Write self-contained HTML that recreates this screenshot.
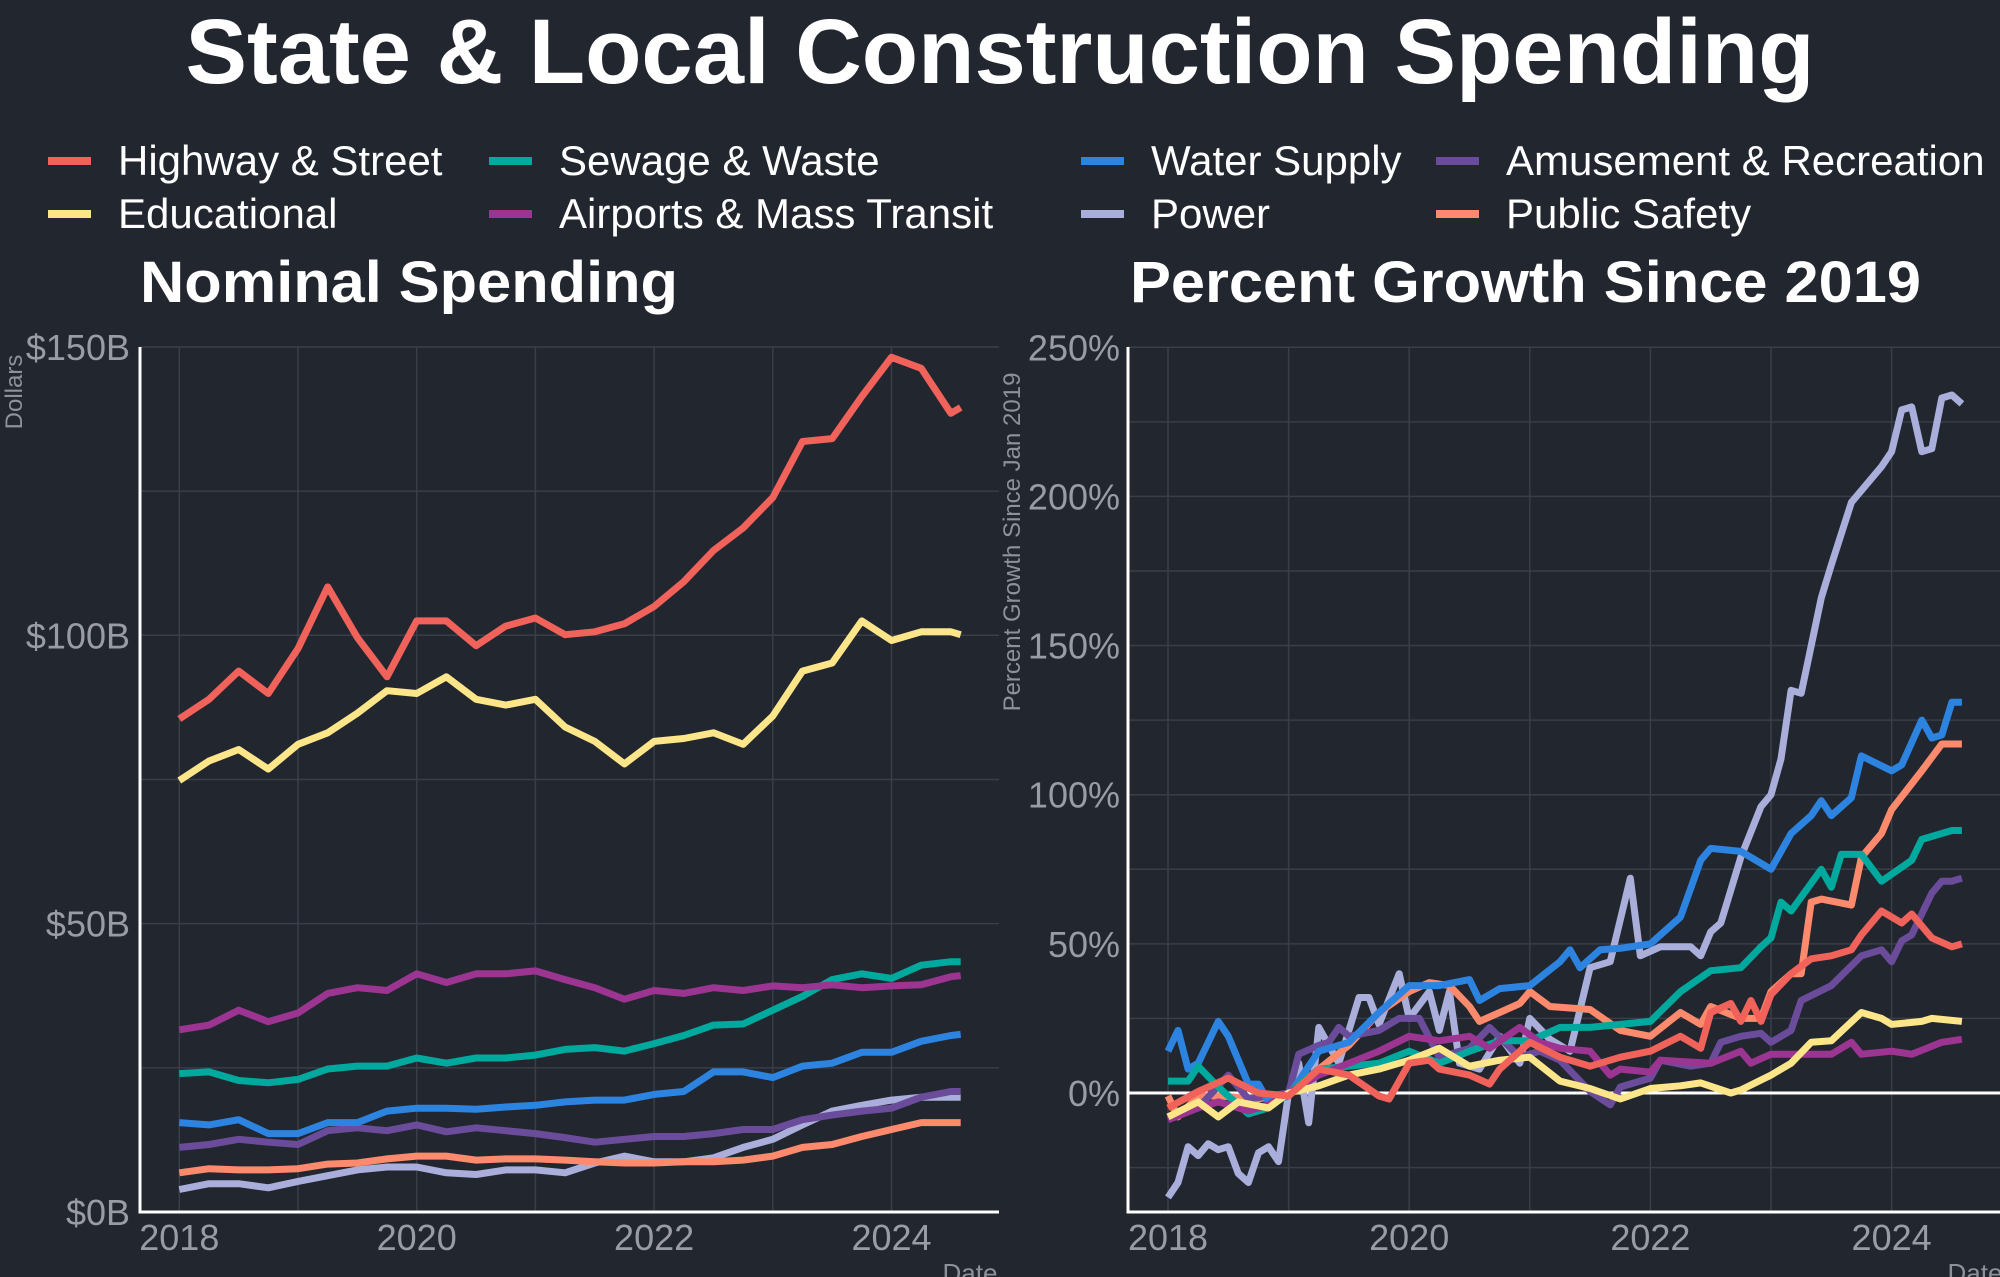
<!DOCTYPE html>
<html><head><meta charset="utf-8"><style>
html,body{margin:0;padding:0;background:#22262f;}
svg{display:block;font-family:"Liberation Sans",Arial,sans-serif;}
</style></head><body>
<svg id="chart" width="2000" height="1277" viewBox="0 0 2000 1277" xmlns="http://www.w3.org/2000/svg">
<rect x="0" y="0" width="2000" height="1277" fill="#22262f"/>
<text x="1000" y="83" text-anchor="middle" font-size="92" font-weight="bold" fill="#fff" textLength="1629" lengthAdjust="spacingAndGlyphs">State &amp; Local Construction Spending</text>
<g id="legend"></g>
<text x="140" y="302" font-size="58" font-weight="bold" fill="#fff" textLength="538" lengthAdjust="spacingAndGlyphs">Nominal Spending</text>
<text x="1130" y="302" font-size="58" font-weight="bold" fill="#fff" textLength="791" lengthAdjust="spacingAndGlyphs">Percent Growth Since 2019</text>
<defs>
<clipPath id="clipL"><rect x="140" y="340" width="860" height="872"/></clipPath>
<clipPath id="clipR"><rect x="1128" y="340" width="872" height="872"/></clipPath>
</defs>
<g id="gridL"></g>
<g id="gridR"></g>
<g id="linesL" clip-path="url(#clipL)"></g>
<g id="linesR" clip-path="url(#clipR)"></g>
<g id="axes"></g>
<text transform="translate(22,392) rotate(-90)" text-anchor="middle" font-size="24" fill="#8e9199">Dollars</text>
<text transform="translate(1020,542) rotate(-90)" text-anchor="middle" font-size="24" fill="#8e9199">Percent Growth Since Jan 2019</text>
<text x="970" y="1282" text-anchor="middle" font-size="26" fill="#8e9199">Date</text>
<text x="1975" y="1282" text-anchor="middle" font-size="26" fill="#8e9199">Date</text>
</svg>
<script>
// ---- data (months since Jan 2018) ----
const names = ["Highway & Street","Educational","Sewage & Waste","Airports & Mass Transit","Water Supply","Power","Amusement & Recreation","Public Safety"];
const colors = ["#f0625a","#fde58a","#00a99d","#9c3591","#2c84e0","#a9aedb","#6b4c9a","#fd8a6c"];
const leftMonths = [0,3,6,9,12,15,18,21,24,27,30,33,36,39,42,45,48,51,54,57,60,63,66,69,72,75,78,79];
const leftHighway = [85.5,88.9,93.8,89.9,97.7,108.4,99.6,92.8,102.5,102.5,98.2,101.6,103,100.1,100.6,102,105,109.3,114.7,118.6,123.9,133.6,134.1,141.4,148.2,146.3,138.5,139.5];
const leftEducational = [74.8,78.2,80.2,76.8,81.1,83.1,86.5,90.4,89.9,92.8,88.9,87.9,88.9,84.1,81.6,77.7,81.6,82.1,83.1,81.1,86,93.8,95.2,102.5,99.1,100.6,100.6,100.1];
const leftSewage = [24,24.3,22.8,22.4,23,24.8,25.3,25.3,26.7,25.8,26.7,26.7,27.2,28.2,28.5,27.9,29.2,30.6,32.4,32.6,35,37.4,40.3,41.3,40.5,42.8,43.4,43.4];
const leftAirports = [31.6,32.4,35,33,34.5,37.9,38.9,38.4,41.3,39.8,41.3,41.3,41.8,40.3,38.9,36.9,38.4,37.9,38.9,38.4,39.2,38.9,39.4,38.9,39.2,39.4,40.8,41];
const leftWater = [15.5,15.1,16,13.6,13.6,15.5,15.5,17.5,18,18,17.8,18.2,18.5,19.1,19.4,19.4,20.4,20.9,24.3,24.3,23.3,25.3,25.8,27.7,27.7,29.6,30.6,30.8];
const leftPower = [3.9,4.9,4.9,4.2,5.3,6.3,7.3,7.8,7.8,6.8,6.5,7.3,7.3,6.8,8.5,9.7,8.7,8.7,9.4,11.2,12.6,15.1,17.5,18.5,19.4,19.9,19.9,19.9];
const leftAmusement = [11.2,11.7,12.6,12.1,11.7,14.1,14.6,14.1,15.1,13.9,14.6,14.1,13.6,12.9,12.1,12.6,13.1,13.1,13.6,14.3,14.3,16,16.8,17.5,18,19.9,20.9,20.9];
const leftSafety = [6.8,7.5,7.3,7.3,7.5,8.3,8.5,9.2,9.7,9.7,9,9.2,9.2,9,8.7,8.5,8.5,8.7,8.7,9,9.7,11.2,11.7,13.1,14.3,15.5,15.5,15.5];

const rHighwayM = [0,3,6,9,12,15,18,21,22,24,26,27,30,32,33,36,39,42,45,48,51,53,54,56,57,58,59,60,62,64,66,68,69,71,73,74,76,78,79];
const rHighwayV = [-5,0.5,5,0,-1,8,6,-1,-2,10,11,8,6,3,8,17,12,9,12,14,19,15,27,30,24,31,24,33,40,45,46,48,53,61,57,60,52,49,50];
const rEduM = [0,3,5,7,10,12,15,18,21,24,27,30,33,36,39,42,45,48,51,53,56,57,60,62,64,66,69,71,72,75,76,79];
const rEduV = [-8,-3,-8,-3,-5,0,2.4,6,8,11,15,9,11,12,4,1.5,-2,1.5,2.4,3.4,0,1,6,10,17,17.5,27,25,23,24,25,24];
const rSewageM = [0,2,3,5,8,10,12,15,18,21,24,27,30,33,36,39,42,45,48,51,54,57,59,60,61,62,65,66,67,69,71,74,75,78,79];
const rSewageV = [4,4,9,2,-7,-5,0,8,9,10,14,10,14,17.5,17.5,22,22,23,24,34,41,42,49,52,64,61,75,69,80,80,71,78,85,88,88];
const rAirportsM = [0,3,5,8,10,12,15,18,21,24,27,30,32,35,37,39,42,44,45,48,49,54,57,58,60,63,66,68,69,72,74,77,79];
const rAirportsV = [-9,-5,-3,-6,-4,0,6,10,14,19,17.5,19,15,22,17,15,14,6,8,7,11,10,14,10,13,13,13,17,13,14,13,17,18];
const rWaterM = [0,1,2,3,5,6,8,9,10,12,15,18,21,24,27,30,31,33,36,39,40,41,43,45,48,51,53,54,57,59,60,62,64,65,66,68,69,72,73,75,76,77,78,79];
const rWaterV = [14,21,8,10,24,19,3,3,-3,-1,14,17,27,36,36,38,31,35,36,44,48,42,48,48.5,50,59,78,82,81,77,75,87,93,98,93,99,113,108,110,125,119,120,131,131];
const rPowerM = [0,1,2,3,4,5,6,7,8,9,10,11,12,13,14,15,17,19,20,21,23,24,26,27,28,29,31,33,35,36,38,40,42,44,46,47,49,52,53,54,55,57,59,60,61,62,63,65,66,68,71,72,73,74,75,76,77,78,79];
const rPowerV = [-35,-30,-18,-21,-17,-19,-18,-27,-30,-20,-18,-23,0,10,-10,22,10,32,32,23,40,25,34,21,34,10,8,19,10,25,18,14,42,44,72,46,49,49,46,54,57,79,96,100,112,135,134,166,177,198,210,215,229,230,215,216,233,234,231];
const rAmuseM = [0,3,6,8,10,12,13,15,16,17,18,21,23,25,27,30,32,35,37,39,42,44,45,48,49,52,54,55,57,59,60,62,63,66,69,71,72,73,74,76,77,78,79];
const rAmuseV = [-9,-5,6,-2,-1,0,13,16,17,22,19,21,25,25,12,15,22,12,14,11,0.5,-4,2,5,11,9,10,17,19,20,17,21,31,36,46,48,44,51,53,67,71,71,72];
const rSafetyM = [0,1,3,5,9,12,15,18,21,24,26,28,30,31,33,35,36,38,42,45,48,51,53,54,57,59,60,62,63,64,65,68,69,71,72,75,77,79];
const rSafetyV = [-1,-8,-1,-1,-2,0,8,16,27,34,37,36,29,24,27,30,34,29,28,21,19,27,23,29,25,25,34,40,40,64,65,63,79,87,95,108,117,117];

const yTicksL = [0,25,50,75,100,125,150];
const yLabelsL = ["$0B","","$50B","","$100B","","$150B"];
const yTicksR = [-25,0,25,50,75,100,125,150,175,200,225,250];
const yLabelsR = ["","0%","","50%","","100%","","150%","","200%","","250%"];
const xYears = [2018,2019,2020,2021,2022,2023,2024];
const xLabels = ["2018","","2020","","2022","","2024"];

// ---- scales ----
const xL = m => 179.3 + m/12*118.7;
const yL = v => 1212 - v*5.767;
const xR = m => 1168 + m/12*120.6;
const yR = p => 1093 - p*2.983;
const NS = "http://www.w3.org/2000/svg";
function mk(tag, attrs, parent){ const e=document.createElementNS(NS,tag); for(const k in attrs) e.setAttribute(k,attrs[k]); parent.appendChild(e); return e; }

// legend
const lg = document.getElementById('legend');
const legPos = [[48,161],[48,214],[489,161],[489,214],[1081,161],[1081,214],[1436,161],[1436,214]];
names.forEach((n,i)=>{
  const g = mk('g',{},lg);
  
  
  const [lx,ly]=legPos[i];
  mk('rect',{x:lx,y:ly-4,width:43,height:8,fill:colors[i]},g);
  const t = mk('text',{x:lx+70,y:ly+14,'font-size':42,fill:'#fff'},g);
  t.textContent = n;
});

// grids and axes
const gl = document.getElementById('gridL'), gr = document.getElementById('gridR'), ax = document.getElementById('axes');
yTicksL.forEach((v,i)=>{
  const l = mk('line',{x1:140,x2:999,y1:yL(v),y2:yL(v),stroke:'#3a3e48','stroke-width':1.5},gl);
   
  if(yLabelsL[i]){ const t=mk('text',{x:130,y:yL(v)+13,'text-anchor':'end','font-size':36,fill:'#9a9ca3'},ax); t.textContent=yLabelsL[i];
      }
});
yTicksR.forEach((v,i)=>{
  const l = mk('line',{x1:1128,x2:2000,y1:yR(v),y2:yR(v),stroke:'#3a3e48','stroke-width':1.5},gr);
   
  if(yLabelsR[i]){ const t=mk('text',{x:1120,y:yR(v)+13,'text-anchor':'end','font-size':36,fill:'#9a9ca3'},ax); t.textContent=yLabelsR[i];
      }
});
xYears.forEach((yr,i)=>{
  const m=(yr-2018)*12;
  const a=mk('line',{x1:xL(m),x2:xL(m),y1:347,y2:1212,stroke:'#3a3e48','stroke-width':1.5},gl);
   
  const b=mk('line',{x1:xR(m),x2:xR(m),y1:347,y2:1212,stroke:'#3a3e48','stroke-width':1.5},gr);
   
  if(xLabels[i]){
    const t1=mk('text',{x:xL(m),y:1250,'text-anchor':'middle','font-size':36,fill:'#9a9ca3'},ax); t1.textContent=xLabels[i];
     
    const t2=mk('text',{x:xR(m),y:1250,'text-anchor':'middle','font-size':36,fill:'#9a9ca3'},ax); t2.textContent=xLabels[i];
     
  }
});
const z=mk('line',{x1:1128,x2:2000,y1:yR(0),y2:yR(0),stroke:'#fff','stroke-width':3},gr);
 
[[140,347,140,1213.5],[138.5,1212,999,1212],[1128,347,1128,1213.5],[1126.5,1212,2000,1212]].forEach(c=>{
  const l=mk('line',{x1:c[0],y1:c[1],x2:c[2],y2:c[3],stroke:'#fff','stroke-width':3},ax);
   
});

// series
const leftVals = [leftHighway,leftEducational,leftSewage,leftAirports,leftWater,leftPower,leftAmusement,leftSafety];
const rightM = [rHighwayM,rEduM,rSewageM,rAirportsM,rWaterM,rPowerM,rAmuseM,rSafetyM];
const rightV = [rHighwayV,rEduV,rSewageV,rAirportsV,rWaterV,rPowerV,rAmuseV,rSafetyV];
const order = [5,7,6,4,2,3,1,0];
const lL=document.getElementById('linesL'), lR=document.getElementById('linesR');
order.forEach(i=>{
  const d = leftVals[i].map((v,k)=>(k?'L':'M')+xL(leftMonths[k]).toFixed(1)+','+yL(v).toFixed(1)).join('');
  const p = mk('path',{d:d,fill:'none',stroke:colors[i],'stroke-width':7,'stroke-linejoin':'round'},lL);
  
  
});
order.forEach(i=>{
  const d = rightV[i].map((v,k)=>(k?'L':'M')+xR(rightM[i][k]).toFixed(1)+','+yR(v).toFixed(1)).join('');
  const p = mk('path',{d:d,fill:'none',stroke:colors[i],'stroke-width':7,'stroke-linejoin':'round'},lR);
  
  
});
</script>
</body></html>
